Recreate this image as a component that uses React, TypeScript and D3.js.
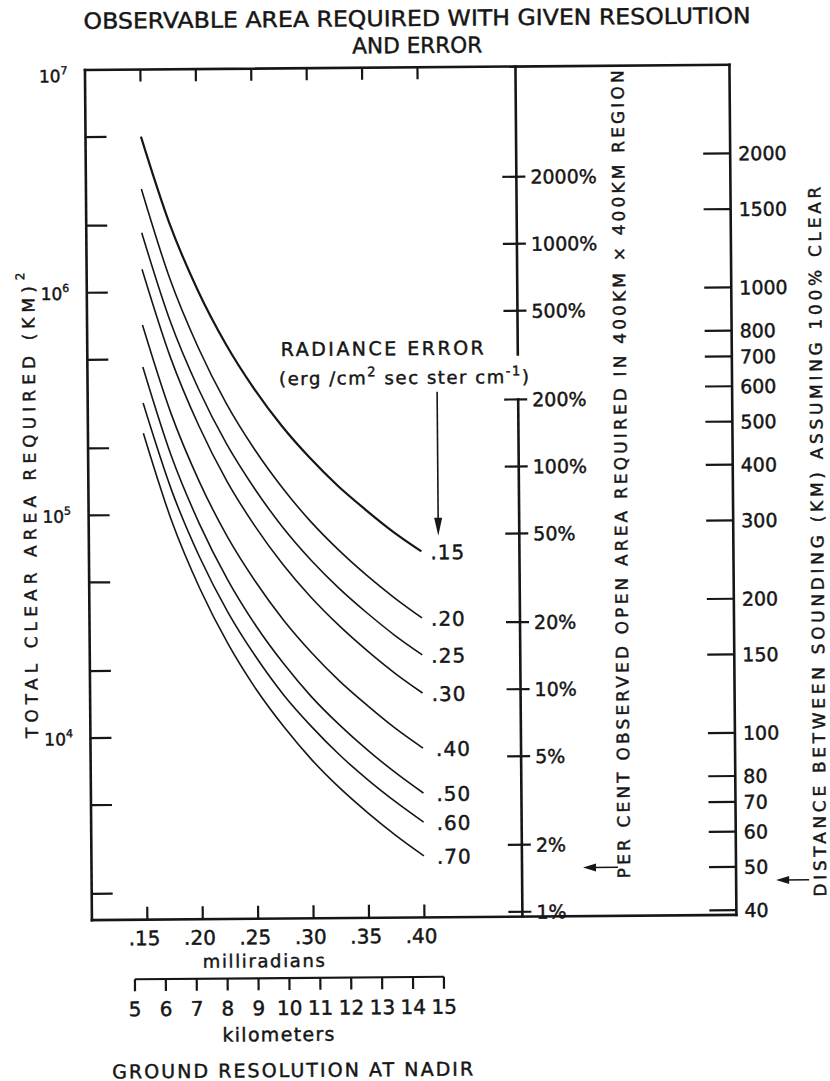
import React from "react";
import * as d3 from "d3";

// ground resolution (milliradians) at which the curves were read
const resolutionMrad = [0.15, 0.175, 0.2, 0.225, 0.25, 0.275, 0.3, 0.325, 0.35, 0.375, 0.4];

// total clear area required (km^2), one list per radiance error
const area15 = [5.0e6, 2.04e6, 1.02e6, 5.82e5, 3.67e5, 2.48e5, 1.78e5, 1.33e5, 1.035e5, 8.2e4, 6.7e4];
const area20 = [2.91e6, 1.15e6, 5.64e5, 3.15e5, 1.96e5, 1.31e5, 9.25e4, 6.87e4, 5.28e4, 4.17e4, 3.37e4];
const area25 = [1.85e6, 7.41e5, 3.67e5, 2.07e5, 1.3e5, 8.71e4, 6.21e4, 4.63e4, 3.58e4, 2.83e4, 2.3e4];
const area30 = [1.27e6, 5.09e5, 2.51e5, 1.41e5, 8.83e4, 5.92e4, 4.21e4, 3.14e4, 2.42e4, 1.91e4, 1.55e4];
const area40 = [7.13e5, 2.86e5, 1.41e5, 7.94e4, 4.98e4, 3.34e4, 2.38e4, 1.77e4, 1.37e4, 1.08e4, 8.77e3];
const area50 = [4.62e5, 1.84e5, 9.06e4, 5.08e4, 3.16e4, 2.12e4, 1.5e4, 1.12e4, 8.63e3, 6.82e3, 5.51e3];
const area60 = [3.18e5, 1.29e5, 6.41e4, 3.63e4, 2.28e4, 1.53e4, 1.1e4, 8.2e3, 6.35e3, 5.04e3, 4.08e3];
const area70 = [2.33e5, 9.35e4, 4.63e4, 2.61e4, 1.63e4, 1.1e4, 7.8e3, 5.82e3, 4.5e3, 3.56e3, 2.88e3];

const radianceErrors = [".15", ".20", ".25", ".30", ".40", ".50", ".60", ".70"];
const curves = [area15, area20, area25, area30, area40, area50, area60, area70];

// axes
const mradTicks = [0.15, 0.2, 0.25, 0.3, 0.35, 0.4];
const mradLabels = [".15", ".20", ".25", ".30", ".35", ".40"];
const kmTicks = [5, 6, 7, 8, 9, 10, 11, 12, 13, 14, 15];
const areaDecades = [1e4, 1e5, 1e6, 1e7];
const areaExponents = ["4", "5", "6", "7"];
const areaMinor = [2e3, 5e3, 2e4, 5e4, 2e5, 5e5, 2e6, 5e6];
const percentTicks = [2000, 1000, 500, 200, 100, 50, 20, 10, 5, 2, 1];
const regionArea = 400 * 400;
const distanceTicks = [2000, 1500, 1000, 800, 700, 600, 500, 400, 300, 200, 150, 100, 80, 70, 60, 50, 40];

const W = 830;
const H = 1081;
const FONT = "'DejaVu Sans', 'Liberation Sans', sans-serif";
const INK = "#161616";

export default function App() {
  const left = 88.5;
  const top = 67.4;
  const bottom = 917.5;
  const pctX = 519;
  const distX = 733;

  const x = d3.scaleLinear().domain([0.1, 0.4]).range([left, 421]);
  const y = d3.scaleLog().domain([1e3, 1e7]).range([958.2, top]);
  const km = d3.scaleLinear().domain([5, 15]).range([131, 440]);
  const kmY = 977;

  const line = d3
    .line<number>()
    .x((_, i) => x(resolutionMrad[i]))
    .y((d) => y(d))
    .curve(d3.curveMonotoneX);

  const pctBreakTop = y((200 / 100) * regionArea) - 45;

  const arrow = (x1: number, x2: number, yy: number, key: string) => (
    <g key={key}>
      <line x1={x1} x2={x2 + 8} y1={yy} y2={yy} stroke={INK} strokeWidth={1.6} />
      <path d={`M${x2},${yy} L${x2 + 13},${yy - 4} L${x2 + 13},${yy + 4} Z`} fill={INK} />
    </g>
  );

  return (
    <svg
      width={W}
      height={H}
      style={{ position: "absolute", left: 0, top: 0, background: "#fff" }}
      fontFamily={FONT}
    >
      <style>{`text{stroke:${INK};stroke-width:0.45px}`}</style>
      <rect width={W} height={H} fill="#fff" />
      <g transform="rotate(-0.47 410 500)" fill={INK}>
        {/* title */}
        <text x={421} y={26} textAnchor="middle" fontSize={22} textLength={667} lengthAdjust="spacingAndGlyphs">
          OBSERVABLE AREA REQUIRED WITH GIVEN RESOLUTION
        </text>
        <text x={421} y={53} textAnchor="middle" fontSize={22} textLength={130} lengthAdjust="spacingAndGlyphs">
          AND ERROR
        </text>

        {/* frame */}
        <g stroke={INK} strokeWidth={2.6} fill="none" strokeLinecap="square">
          <line x1={left} x2={distX} y1={top} y2={top} />
          <line x1={left} x2={distX} y1={bottom} y2={bottom} />
          <line x1={left} x2={left} y1={top} y2={bottom} />
          <line x1={distX} x2={distX} y1={top} y2={bottom} />
          <line x1={pctX} x2={pctX} y1={top} y2={pctBreakTop} />
          <line x1={pctX} x2={pctX} y1={y((200 / 100) * regionArea)} y2={bottom} />
        </g>

        {/* left log axis */}
        <g stroke={INK} strokeWidth={2.2}>
          {[...areaDecades.slice(0, 3), ...areaMinor].map((v) => (
            <line key={v} x1={left} x2={left + 21} y1={y(v)} y2={y(v)} />
          ))}
        </g>
        {areaDecades.map((v, i) => (
          <text key={v} x={71} y={y(v) + (i === 3 ? 12 : 7)} textAnchor="end" fontSize={17}>
            10
            <tspan fontSize={11} dy={-8}>
              {areaExponents[i]}
            </tspan>
          </text>
        ))}
        <g transform={`translate(36,735) rotate(-90)`}>
          <text x={0} y={0} fontSize={17} textLength={452} lengthAdjust="spacing">
            TOTAL CLEAR AREA REQUIRED (KM)
          </text>
          <text x={458} y={-10} fontSize={12}>
            2
          </text>
        </g>

        {/* bottom and top ticks */}
        <g stroke={INK} strokeWidth={2.2}>
          {mradTicks.map((v) => (
            <g key={v}>
              <line x1={x(v)} x2={x(v)} y1={bottom} y2={bottom - 13} />
              <line x1={x(v)} x2={x(v)} y1={top} y2={top + 12} />
            </g>
          ))}
        </g>
        {mradTicks.map((v, i) => (
          <text key={v} x={x(v) - 3} y={943} textAnchor="middle" fontSize={20}>
            {mradLabels[i]}
          </text>
        ))}
        <text x={260} y={966} textAnchor="middle" fontSize={18} textLength={122} lengthAdjust="spacing">
          milliradians
        </text>

        {/* kilometer scale */}
        <line x1={km(5)} x2={km(15)} y1={kmY} y2={kmY} stroke={INK} strokeWidth={2.2} />
        {kmTicks.map((v) => (
          <g key={v}>
            <line x1={km(v)} x2={km(v)} y1={kmY} y2={kmY + 12} stroke={INK} strokeWidth={2.2} />
            <text x={km(v)} y={1014} textAnchor="middle" fontSize={20}>
              {v}
            </text>
          </g>
        ))}
        <text x={274} y={1040} textAnchor="middle" fontSize={19} textLength={112} lengthAdjust="spacing">
          kilometers
        </text>
        <text x={288} y={1076} textAnchor="middle" fontSize={19} textLength={361} lengthAdjust="spacing">
          GROUND RESOLUTION AT NADIR
        </text>

        {/* curves */}
        {curves.map((c, i) => (
          <path
            key={radianceErrors[i]}
            d={line(c) ?? ""}
            fill="none"
            stroke={INK}
            strokeWidth={i === 0 ? 2.2 : 1.6}
          />
        ))}
        {curves.map((c, i) => (
          <text
            key={radianceErrors[i]}
            x={x(0.4) + 9 + (i >= 4 ? 4 : 0)}
            y={y(c[c.length - 1]) + 8}
            fontSize={20}
            letterSpacing={1}
          >
            {radianceErrors[i]}
          </text>
        ))}

        {/* radiance error legend */}
        <text x={282} y={355} fontSize={19} textLength={203} lengthAdjust="spacing">
          RADIANCE ERROR
        </text>
        <text x={280} y={384} fontSize={18} textLength={250} lengthAdjust="spacing">
          (erg /cm
          <tspan fontSize={13} dy={-8}>2</tspan>
          <tspan dy={8}> sec ster cm</tspan>
          <tspan fontSize={13} dy={-8}>-1</tspan>
          <tspan dy={8}>)</tspan>
        </text>
        <line x1={438} x2={438} y1={392} y2={522} stroke={INK} strokeWidth={1.6} />
        <path d={`M438,536 L434,518 L442,518 Z`} fill={INK} />

        {/* percent axis */}
        <g stroke={INK} strokeWidth={2.2}>
          {percentTicks.map((p) => (
            <line key={p} x1={pctX - 14} x2={pctX + 9} y1={y((p / 100) * regionArea)} y2={y((p / 100) * regionArea)} />
          ))}
        </g>
        {percentTicks.map((p) => (
          <text key={p} x={pctX + 14} y={y((p / 100) * regionArea) + 7} fontSize={19}>
            {p}%
          </text>
        ))}
        <g transform={`translate(627,880) rotate(-90)`}>
          <text x={0} y={0} fontSize={17} textLength={808} lengthAdjust="spacing">
            PER CENT OBSERVED OPEN AREA REQUIRED IN 400KM × 400KM REGION
          </text>
        </g>
        {arrow(615, 580, 869, "pctArrow")}

        {/* distance axis */}
        <g stroke={INK} strokeWidth={2.2}>
          {distanceTicks.map((d) => (
            <line key={d} x1={distX - 27} x2={distX} y1={y(d * d)} y2={y(d * d)} />
          ))}
        </g>
        {distanceTicks.map((d) => (
          <text key={d} x={distX + 8} y={y(d * d) + 7} fontSize={19}>
            {d}
          </text>
        ))}
        <g transform={`translate(823,900) rotate(-90)`}>
          <text x={0} y={0} fontSize={17} textLength={710} lengthAdjust="spacing">
            DISTANCE BETWEEN SOUNDING (KM) ASSUMING 100% CLEAR
          </text>
        </g>
        {arrow(806, 773, 883, "distArrow")}
      </g>
    </svg>
  );
}
